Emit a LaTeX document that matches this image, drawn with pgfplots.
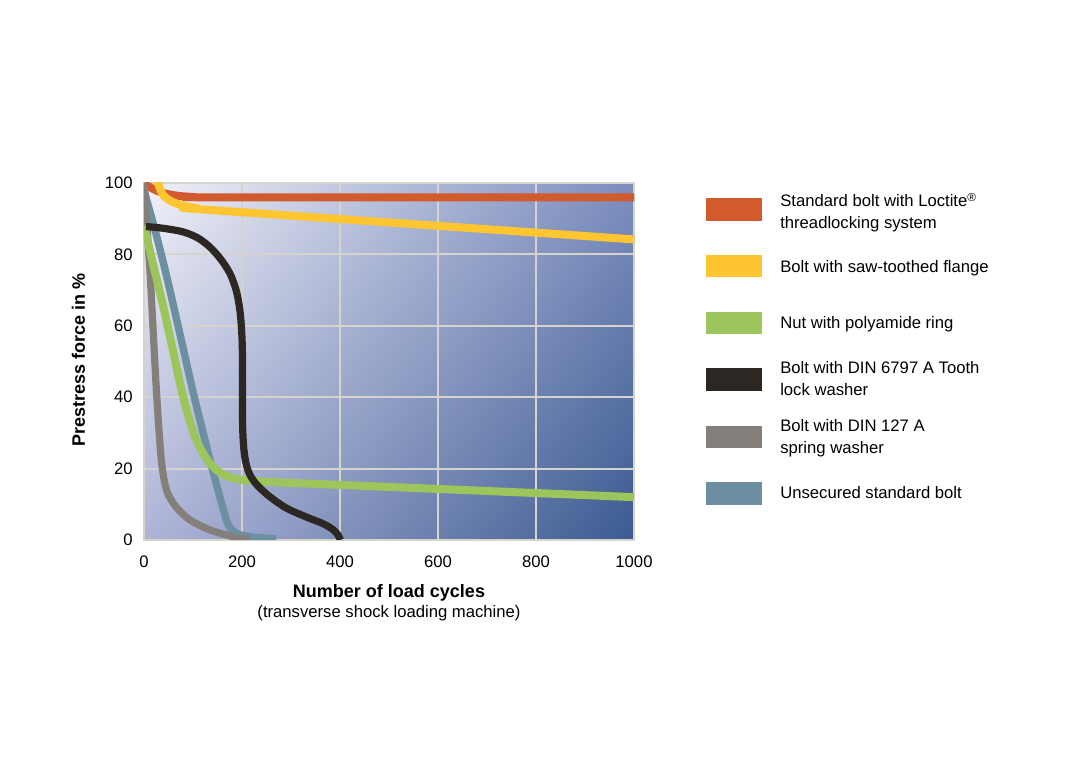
\documentclass[border=0pt]{standalone}
\usepackage{pgfplots}
\pgfplotsset{compat=1.18}
\usepackage{pgfplotstable}
\usetikzlibrary{shadings}
\usepackage{fontspec}
\setmainfont{Liberation Sans}

\definecolor{cRed}{HTML}{D15B2C}
\definecolor{cYel}{HTML}{FDC52F}
\definecolor{cGrn}{HTML}{9CC55B}
\definecolor{cBlk}{HTML}{2C2723}
\definecolor{cGry}{HTML}{857F7B}
\definecolor{cBlu}{HTML}{6C90A2}
\definecolor{bgTL}{HTML}{F1F1F8}
\definecolor{bgTR}{HTML}{7C8DBE}
\definecolor{bgBL}{HTML}{AEB4D7}
\definecolor{bgBR}{HTML}{3B5B91}
\definecolor{gridc}{HTML}{D6D2CC}

\pgfplotstableread{
x y
0 99.7
10 99.0
25 97.9
45 97.0
70 96.4
100 96.1
150 96.0
1000 96.0
}\loctite
\pgfplotstableread{
x y
27 100.8
30 99.4
34 97.9
40 96.5
50 95.3
65 94.3
85 93.5
110 92.9
140 92.4
1000 84.2
}\sawtooth
\pgfplotstableread{
x y
0 88
20 76.5
40 65
60 52.5
80 40
100 30.5
115 25.7
130 22.3
145 20.0
160 18.5
182 17.3
220 16.6
300 16.0
600 14.3
1000 12.0
}\polyamide
\pgfplotstableread{
x y
4 87.8
40 87.3
80 86.3
110 84.6
135 82.0
157 78.6
176 74.5
189 69.5
196 64
199.5 58
201 51
201 36
202 29
205 24
210 20.5
218 17.8
232 15.2
257 12.1
291 8.9
332 6.4
365 4.6
385 3
395 1.6
401 0
}\toothwasher
\pgfplotstableread{
x y
0 100
5 90
12 75.5
19 58
24 45
28 36
32 28
36 21.5
42 16.2
50 12.6
67 9.0
94 5.6
135 2.8
182 0.9
215 0.2
}\springwasher
\pgfplotstableread{
x y
0 98
10 93
25 85.5
46 74
77 55.5
101 41
128 26
148 15.5
162 8.5
172 4.2
185 2.2
200 1.3
230 0.7
270 0.3
}\unsecured

\begin{document}
\begin{tikzpicture}
\begin{scope}[x=0.75pt,y=-0.75pt]
\useasboundingbox (0,0) rectangle (1090,780);
\end{scope}
\begin{axis}[
  at={(108pt,-405pt)}, anchor=south west,
  scale only axis, width=367.5pt, height=267.75pt,
  xmin=0, xmax=1000, ymin=0, ymax=100,
  xtick={0,200,...,1000}, ytick={0,20,...,100},
  major tick length=0pt,
  /pgf/number format/assume math mode=true,
  /pgf/number format/1000 sep={},
  tick label style={font=\fontsize{12.5}{14}\selectfont, text=black, inner sep=0pt},
  xticklabel style={anchor=base, yshift=-21pt},
  yticklabel style={anchor=east, xshift=-8.25pt},
  axis line style={draw=gridc, line width=1.5pt},
  grid=major,
  major grid style={draw=gridc, line width=1.5pt},
  axis background/.style={shade, upper left=bgTL, upper right=bgTR, lower left=bgBL, lower right=bgBR},
  xlabel={Number of load cycles},
  xlabel style={at={(axis description cs:0.5,0)}, anchor=base, yshift=-43.5pt, inner sep=0pt,
    font=\bfseries\fontsize{13.5}{16}\selectfont},
  ylabel={Prestress force in \%},
  ylabel style={at={(axis description cs:-0.1204,0.505)}, anchor=base, inner sep=0pt,
    font=\bfseries\fontsize{13.5}{16}\selectfont},
  every axis plot/.append style={smooth, tension=0.5, line join=round},
]
\addplot[cRed, line width=6pt] table {\loctite};
\addplot[cYel, line width=6pt] table {\sawtooth};
\addplot[cBlu, line width=5.6pt] table {\unsecured};
\addplot[cGry, line width=5.4pt] table {\springwasher};
\addplot[cGrn, line width=6pt] table {\polyamide};
\addplot[cBlk, line width=5.4pt] table {\toothwasher};
\end{axis}
\begin{scope}[x=0.75pt,y=-0.75pt, every node/.style={inner sep=0pt, font=\fontsize{12.5}{15}\selectfont}]
\node[anchor=base] at (389,618) {(transverse shock loading machine)};
\fill[cRed] (706,198) rectangle (762,221);
\fill[cYel] (706,255) rectangle (762,277);
\fill[cGrn] (706,312) rectangle (762,334);
\fill[cBlk] (706,368.5) rectangle (762,391);
\fill[cGry] (706,426) rectangle (762,448.5);
\fill[cBlu] (706,482.5) rectangle (762,505);
\node[anchor=base west] at (780,207) {Standard bolt with Loctite\textsuperscript{®}};
\node[anchor=base west] at (780,228.6) {threadlocking system};
\node[anchor=base west] at (780,272.7) {Bolt with saw-toothed flange};
\node[anchor=base west] at (780,329) {Nut with polyamide ring};
\node[anchor=base west] at (780,373.5) {Bolt with DIN 6797 A Tooth};
\node[anchor=base west] at (780,395.1) {lock washer};
\node[anchor=base west] at (780,431.5) {Bolt with DIN 127 A};
\node[anchor=base west] at (780,453.1) {spring washer};
\node[anchor=base west] at (780,498.3) {Unsecured standard bolt};
\end{scope}
\end{tikzpicture}
\end{document}
